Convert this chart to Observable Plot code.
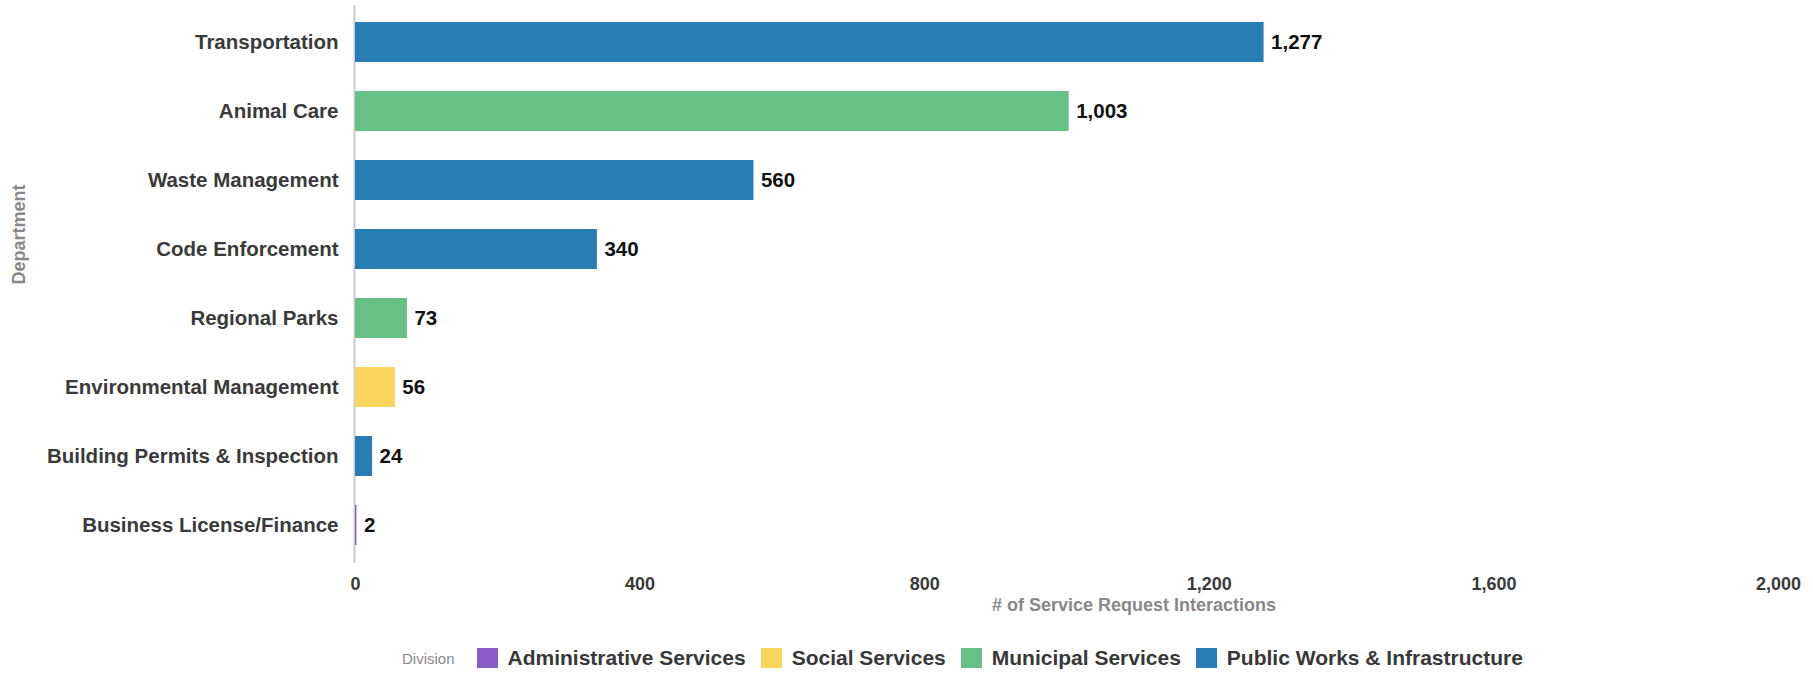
<!DOCTYPE html>
<html>
<head>
<meta charset="utf-8">
<script src="https://cdn.jsdelivr.net/npm/d3@7"></script>
<script src="https://cdn.jsdelivr.net/npm/@observablehq/plot@0.6"></script>
<style>
  html, body { margin: 0; padding: 0; background: #fff; overflow: hidden; }
  body { width: 1813px; height: 673px; position: relative; font-family: "Liberation Sans", Arial, Helvetica, sans-serif; }
  #chart { position: absolute; left: 0; top: 0; }
  #legend { position: absolute; left: 402px; top: 643px; height: 30px; display: flex; align-items: center; white-space: nowrap; }
  #legend .title { font-size: 15px; color: #8a8a8a; margin-right: 22px; }
  #legend .sw { width: 21px; height: 20px; margin-right: 10px; }
  #legend .lab { font-size: 21px; font-weight: bold; color: #383838; margin-right: 15px; }
</style>
</head>
<body>
<div id="chart"></div>
<div id="legend"></div>
<script>
const departments = [
  "Transportation",
  "Animal Care",
  "Waste Management",
  "Code Enforcement",
  "Regional Parks",
  "Environmental Management",
  "Building Permits & Inspection",
  "Business License/Finance"
];
const requests = [1277, 1003, 560, 340, 73, 56, 24, 2];
const divisions = [
  "Public Works & Infrastructure",
  "Municipal Services",
  "Public Works & Infrastructure",
  "Public Works & Infrastructure",
  "Municipal Services",
  "Social Services",
  "Public Works & Infrastructure",
  "Administrative Services"
];
const divisionNames = ["Administrative Services", "Social Services", "Municipal Services", "Public Works & Infrastructure"];
const divisionColors = ["#8a5cc8", "#f9d55d", "#67c086", "#287db5"];
const xTicks = [0, 400, 800, 1200, 1600, 2000];
const xTitle = "# of Service Request Interactions";
const yTitle = "Department";
const legendTitle = "Division";

const data = departments.map((d, i) => ({department: d, value: requests[i], division: divisions[i]}));
const fmt = d3.format(",");
const FONT = "'Liberation Sans', Arial, Helvetica, sans-serif";

const chart = Plot.plot({
  width: 1813,
  height: 640,
  marginLeft: 355,
  marginRight: 35,
  marginTop: 5,
  marginBottom: 77,
  style: {fontFamily: FONT, background: "#fff"},
  x: {domain: [0, 2000], ticks: xTicks, tickFormat: fmt},
  y: {domain: departments, paddingInner: 0.42, paddingOuter: 0.21},
  color: {domain: divisionNames, range: divisionColors},
  marks: [
    Plot.ruleX([0], {stroke: "#cccccc", strokeWidth: 2, dx: -1}),
    Plot.barX(data, {y: "department", x: "value", fill: "division"}),
    Plot.text(data, {
      y: "department", x: "value", text: d => fmt(d.value),
      textAnchor: "start", dx: 7, fontSize: 20.5, fontWeight: "bold", fill: "#111"
    }),
    Plot.axisX({ticks: xTicks, tickFormat: fmt, tickSize: 0, tickPadding: 14, fontSize: 18, fontWeight: "bold", color: "#3a3a3a", label: null}),
    Plot.axisY({tickSize: 0, tickPadding: 17, fontSize: 20.5, fontWeight: "bold", color: "#3a3a3a", label: null}),
    Plot.text([xTitle], {frameAnchor: "bottom", dx: 67, dy: 47, fontSize: 18, fontWeight: "bold", fill: "#888888"}),
    Plot.text([yTitle], {frameAnchor: "left", rotate: -90, dx: -336, fontSize: 18, fontWeight: "bold", fill: "#888888"})
  ]
});
document.getElementById("chart").appendChild(chart);

const legend = document.getElementById("legend");
const t = document.createElement("span");
t.className = "title"; t.textContent = legendTitle;
legend.appendChild(t);
divisionNames.forEach((name, i) => {
  const sw = document.createElement("span");
  sw.className = "sw"; sw.style.background = divisionColors[i];
  legend.appendChild(sw);
  const lab = document.createElement("span");
  lab.className = "lab"; lab.textContent = name;
  legend.appendChild(lab);
});
</script>
</body>
</html>
